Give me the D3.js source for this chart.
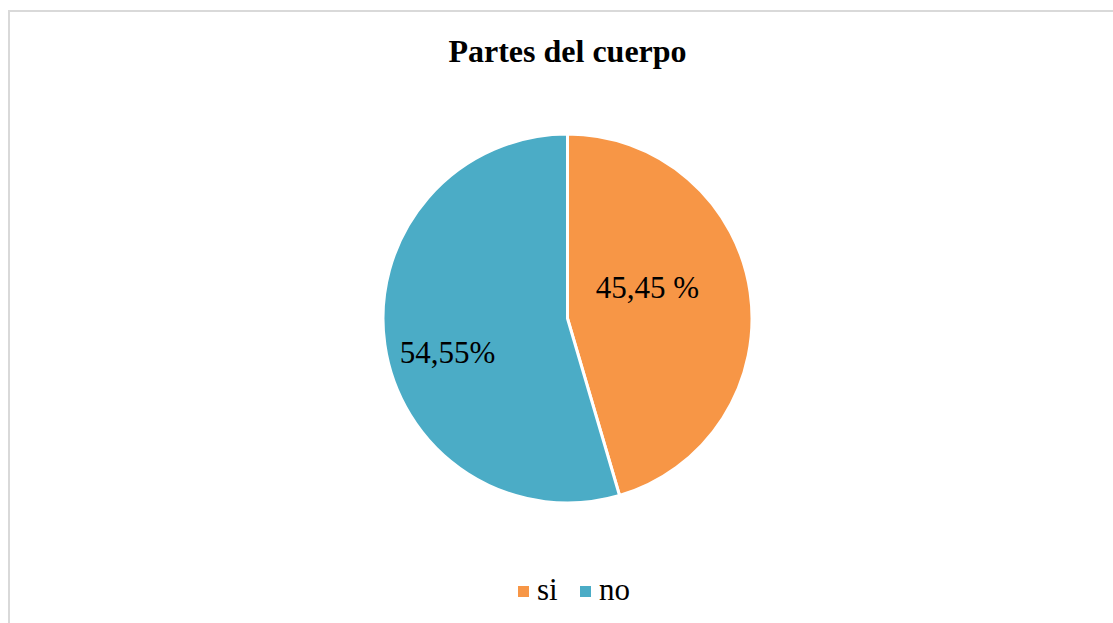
<!DOCTYPE html>
<html>
<head>
<meta charset="utf-8">
<script src="https://cdn.jsdelivr.net/npm/d3@7"></script>
<style>
  body { margin: 0; background: #fff; }
  svg { display: block; font-family: "Liberation Serif", "Times New Roman", serif; }
</style>
</head>
<body>
<svg width="1113" height="623"></svg>
<script>
// data
var categories = ["si", "no"];
var values = [45.45, 54.55];
var labels = ["45,45 %", "54,55%"];
var colors = ["#F79646", "#4BACC6"];

var svg = d3.select("svg");
var cx = 567.5, cy = 318.5, radius = 184.5;

// chart border (only top and left show in the crop)
svg.append("rect")
  .attr("x", 9).attr("y", 11)
  .attr("width", 1200).attr("height", 700)
  .attr("fill", "none")
  .attr("stroke", "#d9d9d9")
  .attr("stroke-width", 2);

// title
svg.append("text")
  .attr("x", cx).attr("y", 62)
  .attr("text-anchor", "middle")
  .attr("font-size", 32)
  .attr("font-weight", "bold")
  .text("Partes del cuerpo");

var color = d3.scaleOrdinal().domain(categories).range(colors);

var pie = d3.pie().sort(null).value(function(d) { return d.value; });
var data = categories.map(function(c, i) { return { name: c, value: values[i], label: labels[i] }; });
var arcs = pie(data);

var arc = d3.arc().innerRadius(0).outerRadius(radius);

var g = svg.append("g").attr("transform", "translate(" + cx + "," + cy + ")");

g.selectAll("path")
  .data(arcs)
  .enter().append("path")
  .attr("d", arc)
  .attr("fill", function(d) { return color(d.data.name); })
  .attr("stroke", "#fff")
  .attr("stroke-width", 3)
  .attr("stroke-linejoin", "round");

// data labels
var labelPos = [[80, -28], [-120, 37]];
g.selectAll("text.label")
  .data(arcs)
  .enter().append("text")
  .attr("class", "label")
  .attr("x", function(d, i) { return labelPos[i][0]; })
  .attr("y", function(d, i) { return labelPos[i][1]; })
  .attr("text-anchor", "middle")
  .attr("dominant-baseline", "middle")
  .attr("font-size", 31)
  .text(function(d) { return d.data.label; });

// legend
var legend = svg.append("g").attr("transform", "translate(0,600)");
var legendX = [518, 580];
categories.forEach(function(c, i) {
  var item = legend.append("g").attr("transform", "translate(" + legendX[i] + ",0)");
  item.append("rect")
    .attr("x", 0).attr("y", -14)
    .attr("width", 11).attr("height", 11)
    .attr("fill", color(c));
  item.append("text")
    .attr("x", 19).attr("y", 0)
    .attr("font-size", 31)
    .text(c);
});
</script>
</body>
</html>
